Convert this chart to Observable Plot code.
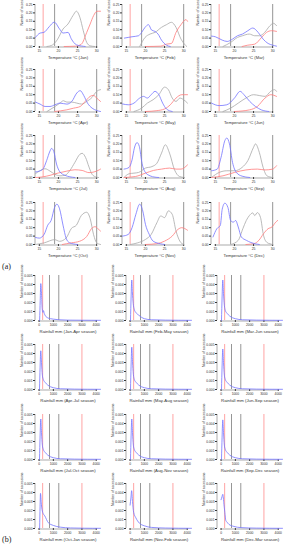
<!DOCTYPE html>
<html><head><meta charset="utf-8">
<script src="https://cdn.jsdelivr.net/npm/d3@7"></script>
<script src="https://cdn.jsdelivr.net/npm/@observablehq/plot@0.6"></script>
<style>
body{margin:0;background:#fff;}
#root{position:relative;width:290px;height:550px;overflow:hidden;background:#fff;}
.tag{position:absolute;font-family:"Liberation Serif","DejaVu Serif",serif;font-size:8px;color:#222;}
</style></head><body><div id="root"></div>
<script>
// ---------- DATA ----------
const months = ["Jan","Feb","Mar","Apr","May","Jun","Jul","Aug","Sep","Oct","Nov","Dec"];
const seasons = ["Jan-Apr","Feb-May","Mar-Jun","Apr-Jul","May-Aug","Jun-Sep","Jul-Oct","Aug-Nov","Sep-Dec","Oct-Jan","Nov-Feb","Dec-Mar"];
const tempXTicks = [15, 20, 25, 30];
const tempYTicks = [0, 0.05, 0.10, 0.15, 0.20, 0.25];
const rainXTicks = [0, 1000, 2000, 3000, 4000];
const rainYTicks = [0, 0.001, 0.002, 0.003, 0.004, 0.005];
const tempRedLines = [16];
const tempGrayLines = [19, 30];
const rainRedLines = [250, 3000];
const rainGrayLines = [730, 1380];

const janBlue = [[14,0.054],[15.2,0.08],[16.2,0.084],[17.6,0.118],[18.9,0.145],[20.3,0.104],[21.2,0.08],[22.5,0.084],[23.4,0.044],[24.7,0.01],[26,0.003],[27,0]];
const janGray = [[17,0],[18.5,0.01],[19.8,0.044],[21.2,0.104],[22.5,0.134],[23.8,0.184],[24.7,0.21],[25.6,0.174],[26.5,0.094],[27.4,0.024],[28.3,0.004],[29.5,0]];
const janRed = [[21.5,0],[24.5,0.002],[26,0.014],[27.4,0.084],[28.3,0.134],[29.2,0.184],[30.1,0.21],[31,0.21]];

const febBlue = [[14.5,0.05],[16.5,0.058],[18.2,0.064],[19,0.084],[19.9,0.114],[20.8,0.13],[21.6,0.098],[22.5,0.09],[23.3,0.074],[24.2,0.038],[25.5,0.008],[26.5,0]];
const febGray = [[18.5,0],[19.9,0.054],[21.2,0.074],[22.5,0.084],[24.2,0.114],[25.5,0.13],[26.8,0.144],[28,0.114],[29.3,0.044],[30.2,0.014],[30.8,0]];
const febRed = [[20,0],[24,0.002],[25.5,0.014],[26.8,0.018],[28,0.084],[29.3,0.13],[30.6,0.16],[31,0.15]];

const marBlue = [[14,0.062],[15,0.058],[16.8,0.038],[18.1,0.03],[19.5,0.044],[20.8,0.064],[22.1,0.074],[23.5,0.094],[24.8,0.11],[26.2,0.084],[27.5,0.044],[28.8,0.018],[30,0.008],[31,0.002]];
const marGray = [[17,0],[19,0.024],[20.8,0.054],[22.1,0.064],[23.9,0.074],[25.3,0.064],[26.6,0.064],[27.9,0.084],[29.3,0.124],[30.2,0.138],[31,0.124]];
const marRed = [[22,0],[23.5,0.008],[25.3,0.014],[27.1,0.054],[28.4,0.084],[29.7,0.094],[31,0.09]];

const aprBlue = [[14,0.056],[15.2,0.044],[16.5,0.03],[17.8,0.03],[19.1,0.04],[20.4,0.05],[22.2,0.044],[23.5,0.06],[24.8,0.11],[25.7,0.124],[26.6,0.096],[27.6,0.05],[28.8,0.02],[30,0.006],[31,0]];
const aprGray = [[17,0],[19.1,0.03],[20.4,0.05],[21.3,0.064],[22.2,0.056],[23.5,0.056],[24.8,0.05],[26.1,0.044],[27.4,0.06],[28.8,0.084],[30,0.12],[31,0.13]];
const aprRed = [[19,0],[22.2,0.01],[24,0.02],[25.7,0.03],[27,0.06],[28.3,0.09],[29.2,0.096],[30,0.08],[31,0.06]];

const mayBlue = [[14,0.045],[15.5,0.04],[17,0.05],[18.5,0.08],[19.5,0.09],[20.5,0.08],[21.5,0.1],[22.5,0.12],[23.5,0.1],[24.5,0.05],[25.5,0.015],[27,0]];
const mayGray = [[17,0],[19,0.02],[20.5,0.05],[22,0.07],[23.5,0.1],[25,0.145],[26,0.13],[27,0.08],[28,0.06],[29,0.08],[30,0.07],[31,0.05]];
const mayRed = [[20,0],[23,0.005],[25,0.015],[26.5,0.04],[28,0.08],[29.5,0.1],[31,0.1]];

const junBlue = [[14,0.05],[16,0.035],[18,0.04],[20,0.08],[21.5,0.12],[22.5,0.1],[24,0.06],[25.5,0.03],[27,0.01],[29,0]];
const junGray = [[17,0],[19,0.02],[21,0.05],[23,0.08],[25,0.1],[26.5,0.095],[28,0.09],[29.5,0.12],[30.5,0.13],[31,0.12]];
const junRed = [[20,0],[24,0.01],[26,0.03],[28,0.08],[29.5,0.1],[31,0.09]];

const julBlue = [[14,0.033],[15,0.038],[16,0.052],[16.9,0.1],[17.8,0.158],[18.2,0.173],[18.8,0.154],[19.5,0.08],[20.4,0.033],[21.7,0.013],[23,0.004],[24.3,0]];
const julGray = [[14,0.023],[15,0.038],[16.5,0.052],[17.8,0.038],[19.1,0.019],[20.4,0.01],[21.7,0.013],[23,0.042],[24.3,0.09],[25.6,0.138],[26.2,0.144],[27.1,0.119],[28,0.062],[28.8,0.019],[29.7,0.004],[30.5,0]];
const julRed = [[14,0],[16,0.004],[17.8,0.013],[20,0.027],[22.2,0.038],[24.3,0.046],[26.2,0.042],[28,0.029],[29.3,0.033],[30.7,0.046],[31,0.05]];

const augBlue = [[14.4,0.05],[15.7,0.06],[16.5,0.105],[17.1,0.175],[17.8,0.208],[18.4,0.185],[19.1,0.085],[20,0.03],[21.2,0.01],[22.5,0.002],[23.5,0]];
const augGray = [[14.4,0],[15.7,0.022],[17,0.026],[18.2,0.03],[20,0.056],[21.7,0.065],[23,0.085],[24.2,0.145],[25.2,0.195],[26.3,0.145],[27.6,0.046],[28.9,0.006],[30.2,0]];
const augRed = [[14.4,0],[17.4,0.006],[20,0.026],[22.1,0.042],[24.2,0.05],[26.3,0.056],[28,0.05],[29.3,0.05],[31,0.075]];

const sepBlue = [[14,0.04],[15.5,0.05],[16.5,0.12],[17.5,0.22],[18,0.235],[18.7,0.2],[19.5,0.09],[20.5,0.03],[22,0.008],[24,0]];
const sepGray = [[14,0],[16,0.03],[18,0.04],[20,0.04],[22,0.06],[23.5,0.1],[25,0.18],[25.5,0.2],[26.5,0.15],[27.5,0.06],[28.5,0.01],[30,0]];
const sepRed = [[14,0],[17,0.01],[20,0.03],[23,0.045],[26,0.05],[28,0.045],[30,0.05],[31,0.07]];

const octBlue = [[14,0.042],[15,0.038],[16.3,0.062],[17.2,0.115],[18.1,0.144],[19,0.221],[19.6,0.24],[20.3,0.212],[21.2,0.115],[22,0.038],[22.9,0.01],[23.8,0.004],[25,0]];
const octGray = [[14,0],[16.3,0.01],[19,0.029],[20.3,0.019],[22,0.038],[23.4,0.096],[24.7,0.115],[26,0.173],[27.4,0.192],[28.3,0.154],[29.2,0.058],[30,0.01],[31,0]];
const octRed = [[21,0],[23.4,0.01],[25.5,0.019],[27.4,0.048],[28.7,0.096],[29.6,0.106],[30.5,0.09],[31,0.08]];

const novBlue = [[14,0.05],[15.5,0.06],[16.5,0.1],[17.5,0.18],[18.5,0.24],[19.3,0.2],[20,0.12],[21,0.06],[22,0.02],[24,0.004],[25,0]];
const novGray = [[16,0],[18,0.01],[20,0.03],[21.5,0.06],[23,0.13],[24,0.17],[25,0.16],[26,0.2],[27,0.18],[28,0.08],[29,0.02],[30,0]];
const novRed = [[20,0],[23,0.005],[25,0.02],[27,0.05],[28.5,0.09],[29.5,0.1],[31,0.085]];

const decBlue = [[14.4,0.045],[15.4,0.094],[16.3,0.113],[16.8,0.21],[17.5,0.246],[18.3,0.22],[19,0.143],[19.7,0.133],[20.3,0.143],[21,0.104],[21.8,0.045],[23.1,0.025],[24.3,0.012],[25.5,0.004],[26.5,0]];
const decGray = [[19,0],[21,0.025],[22.2,0.094],[23.1,0.143],[23.9,0.172],[24.8,0.188],[25.3,0.172],[26,0.19],[26.8,0.162],[27.6,0.055],[28.5,0.012],[29.3,0.004],[30,0]];
const decRed = [[23,0],[25.2,0.006],[26.4,0.025],[27.6,0.064],[28.8,0.094],[29.8,0.104],[30.8,0.133],[31.3,0.143]];

const rainJanApr = [[40,0],[80,0.0022],[120,0.0041],[170,0.003],[220,0.0013],[270,0.0009],[310,0.0011],[360,0.0008],[450,0.0005],[600,0.0003],[800,0.0002],[1000,0.00015],[1400,0.00008],[2000,0.00004],[3000,0.00003],[4300,0.00002]];
const rainFebMay = [[30,0],[70,0.0025],[120,0.0045],[160,0.0032],[220,0.0019],[300,0.0012],[400,0.0009],[600,0.0006],[1000,0.0002],[1500,0.00008],[2500,0.00004],[4300,0.00002]];
const rainMarJun = [[30,0],[70,0.0025],[120,0.0045],[170,0.003],[230,0.0017],[300,0.0011],[420,0.0008],[600,0.0005],[1000,0.0002],[1500,0.00008],[2500,0.00004],[4300,0.00002]];
const rainAprJul = [[30,0],[70,0.0024],[120,0.0043],[170,0.003],[230,0.0016],[300,0.0011],[420,0.0008],[600,0.0005],[1000,0.0002],[1500,0.00008],[2500,0.00004],[4300,0.00002]];
const rainMayAug = [[30,0],[70,0.0026],[120,0.0047],[170,0.0031],[230,0.0017],[300,0.0011],[420,0.0008],[600,0.0005],[1000,0.0002],[1500,0.00008],[2500,0.00004],[4300,0.00002]];
const rainJunSep = [[30,0],[70,0.0025],[120,0.0045],[170,0.003],[230,0.0016],[300,0.0011],[420,0.0008],[600,0.0005],[1000,0.0002],[1500,0.00008],[2500,0.00004],[4300,0.00002]];
const rainJulOct = [[30,0],[70,0.0025],[120,0.0045],[170,0.003],[230,0.0016],[300,0.0011],[420,0.0008],[600,0.0005],[1000,0.0002],[1500,0.00008],[2500,0.00004],[4300,0.00002]];
const rainAugNov = [[30,0],[70,0.0025],[120,0.0045],[170,0.003],[230,0.0016],[300,0.0011],[420,0.0008],[600,0.0005],[1000,0.0002],[1500,0.00008],[2500,0.00004],[4300,0.00002]];
const rainSepDec = [[30,0],[70,0.0024],[120,0.0044],[170,0.003],[230,0.0016],[300,0.0011],[420,0.0008],[600,0.0005],[1000,0.0002],[1500,0.00008],[2500,0.00004],[4300,0.00002]];
const rainOctJan = [[40,0],[70,0.0024],[100,0.0039],[160,0.0027],[250,0.0018],[400,0.0014],[650,0.00064],[1000,0.00034],[1480,0.00015],[2200,0.00006],[3200,0.00003],[4300,0.00002]];
const rainNovFeb = [[0,0.0026],[60,0.0034],[110,0.0042],[170,0.003],[250,0.0018],[400,0.0012],[650,0.0006],[1000,0.0003],[1500,0.00012],[2500,0.00005],[4300,0.00002]];
const rainDecMar = [[0,0.0032],[60,0.0035],[120,0.0038],[200,0.0027],[262,0.0018],[330,0.0009],[420,0.0007],[550,0.00046],[900,0.00023],[1380,0.0001],[2500,0.00004],[4300,0.00002]];

// ---------- BUILD ----------
const tempSets = [
  [janBlue, janGray, janRed], [febBlue, febGray, febRed], [marBlue, marGray, marRed],
  [aprBlue, aprGray, aprRed], [mayBlue, mayGray, mayRed], [junBlue, junGray, junRed],
  [julBlue, julGray, julRed], [augBlue, augGray, augRed], [sepBlue, sepGray, sepRed],
  [octBlue, octGray, octRed], [novBlue, novGray, novRed], [decBlue, decGray, decRed]
];
const rainSets = [rainJanApr, rainFebMay, rainMarJun, rainAprJul, rainMayAug, rainJunSep,
  rainJulOct, rainAugNov, rainSepDec, rainOctJan, rainNovFeb, rainDecMar];

const root = document.getElementById("root");
const FONT = "'Liberation Sans', Arial, sans-serif";
const BLUE = "#7474ff", GRAY = "#a8a8a8", RED = "#ff7b7b", VRED = "#ff8c8c", VGRAY = "#8a8a8a";

function place(el, left, top) {
  el.style.position = "absolute";
  el.style.left = left + "px";
  el.style.top = top + "px";
  root.appendChild(el);
}
const toObj = (arr) => arr.map(([x, y]) => ({x, y}));

const tDomX = [14, 31], tDomY = [0, 0.25];
function tempPanel(i) {
  const [b, g, r] = tempSets[i].map(toObj);
  return Plot.plot({
    width: 100, height: 63,
    marginLeft: 35, marginRight: 0, marginTop: 4, marginBottom: 17,
    style: {fontSize: "3.4px", fontFamily: FONT, background: "transparent", overflow: "visible", color: "#333"},
    x: {domain: tDomX, ticks: tempXTicks, tickSize: 2, tickPadding: 1.5, label: null},
    y: {domain: tDomY, ticks: tempYTicks, tickFormat: ".2f", tickSize: 2, tickPadding: 1, label: null},
    marks: [
      Plot.ruleY([tDomY[0]], {x1: tempXTicks[0], x2: tempXTicks[tempXTicks.length - 1], stroke: "#555", strokeWidth: 0.5, dy: 0.5}),
      Plot.ruleX([tDomX[0]], {y1: tDomY[0], y2: tDomY[1], stroke: "#555", strokeWidth: 0.5, dx: -0.5}),
      Plot.ruleX(tempRedLines, {stroke: VRED, strokeWidth: 0.8}),
      Plot.ruleX(tempGrayLines, {stroke: VGRAY, strokeWidth: 0.9}),
      Plot.line(g, {x: "x", y: "y", stroke: GRAY, strokeWidth: 0.8, curve: "monotone-x"}),
      Plot.line(r, {x: "x", y: "y", stroke: RED, strokeWidth: 0.8, curve: "monotone-x"}),
      Plot.line(b, {x: "x", y: "y", stroke: BLUE, strokeWidth: 0.8, curve: "monotone-x"}),
      Plot.text([`Temperature °C (${months[i]})`], {frameAnchor: "bottom", dy: 12, fontSize: 4.2, fill: "#333"}),
      Plot.text(["Number of accessions"], {frameAnchor: "left", rotate: -90, dx: -13.5, fontSize: 3.4, fill: "#333"})
    ]
  });
}

const rDomX = [-250, 4300], rDomY = [0, 0.005];
function rainPanel(i) {
  const d = toObj(rainSets[i]);
  return Plot.plot({
    width: 100, height: 66,
    marginLeft: 35, marginRight: 0, marginTop: 4, marginBottom: 17,
    style: {fontSize: "3.3px", fontFamily: FONT, background: "transparent", overflow: "visible", color: "#333"},
    x: {domain: rDomX, ticks: rainXTicks, tickSize: 2, tickPadding: 1.5, tickFormat: "d", label: null},
    y: {domain: rDomY, ticks: rainYTicks, tickFormat: ".3f", tickSize: 2, tickPadding: 1, label: null},
    marks: [
      Plot.ruleY([rDomY[0]], {x1: rainXTicks[0], x2: rainXTicks[rainXTicks.length - 1], stroke: "#555", strokeWidth: 0.5, dy: 0.5}),
      Plot.ruleX([rDomX[0]], {y1: rDomY[0], y2: rDomY[1], stroke: "#555", strokeWidth: 0.5, dx: -0.5}),
      Plot.ruleX(rainRedLines, {stroke: VRED, strokeWidth: 0.8}),
      Plot.ruleX(rainGrayLines, {stroke: VGRAY, strokeWidth: 0.9}),
      Plot.line(d, {x: "x", y: "y", stroke: BLUE, strokeWidth: 1, strokeOpacity: 0.8, curve: "monotone-x"}),
      Plot.text([`Rainfall mm (${seasons[i]} season)`], {frameAnchor: "bottom", dy: 12, fontSize: 4.3, fill: "#333"}),
      Plot.text(["Number of accessions"], {frameAnchor: "left", rotate: -90, dx: -14, fontSize: 3.4, fill: "#333"})
    ]
  });
}

const tempColLeft = [0, 87, 176];
const tempRowTop = [0, 65, 131, 198];
const rainColLeft = [0, 91, 182];
const rainRowTop = [271, 340, 410, 479];

for (let i = 0; i < 12; i++) {
  place(tempPanel(i), tempColLeft[i % 3], tempRowTop[Math.floor(i / 3)]);
  place(rainPanel(i), rainColLeft[i % 3], rainRowTop[Math.floor(i / 3)]);
}

function tag(text, left, top) {
  const s = document.createElement("div");
  s.className = "tag";
  s.textContent = text;
  s.style.left = left + "px";
  s.style.top = top + "px";
  root.appendChild(s);
}
tag("(a)", 2, 262);
tag("(b)", 2, 535);
</script></body></html>
